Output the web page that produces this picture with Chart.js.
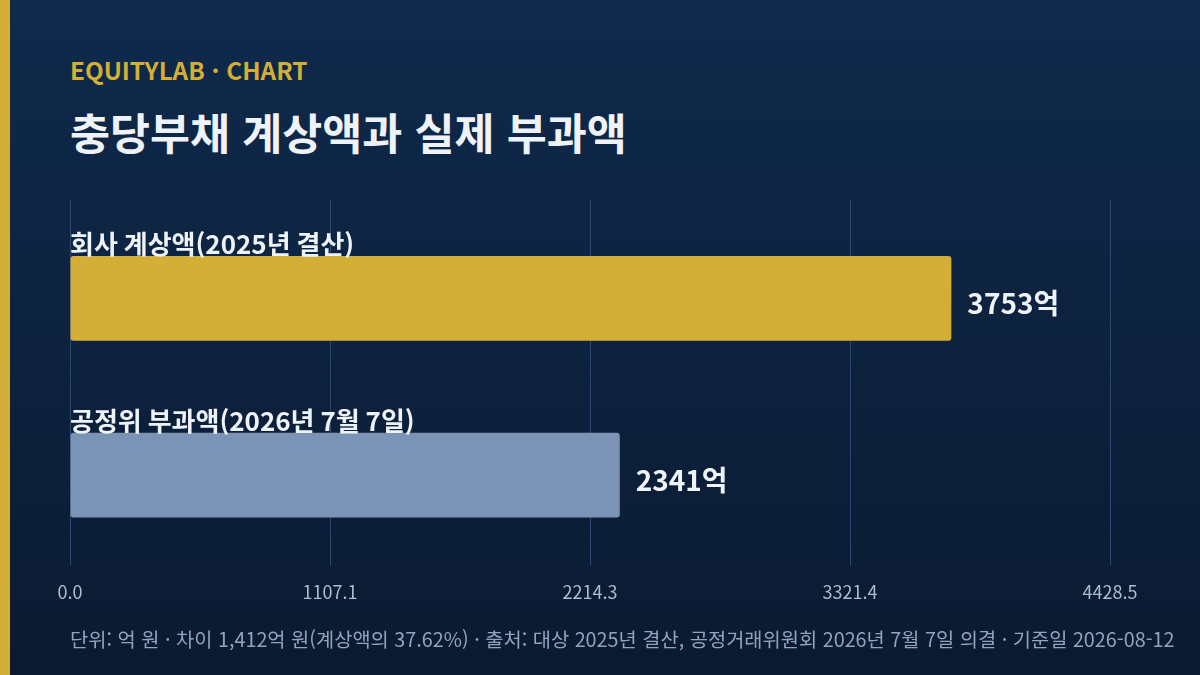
<!DOCTYPE html>
<html lang="ko">
<head>
<meta charset="utf-8">
<script src="https://cdn.jsdelivr.net/npm/chart.js@4"></script>
<style>
  html, body { margin: 0; padding: 0; }
  body {
    width: 1200px; height: 675px; overflow: hidden; position: relative;
    background: linear-gradient(180deg, #0f2a4c 0%, #0b1a31 100%);
    font-family: "Noto Sans CJK KR", "Noto Sans", sans-serif;
  }
  .strip { position: absolute; left: 0; top: 0; width: 10px; height: 675px; background: #d4af37; }
  .kicker { position: absolute; left: 70px; top: 55px; color: #d4af37; font-size: 24.3px; font-weight: 700; line-height: 30px; }
  .title { position: absolute; left: 70px; top: 104px; color: #eef2f9; font-size: 43.5px; font-weight: 700; line-height: 56px; }
  .foot { position: absolute; left: 70px; top: 625px; color: #93a3bd; font-size: 19.8px; line-height: 28px; white-space: nowrap; }
  #wrap { position: absolute; left: 0; top: 0; width: 1200px; height: 675px; }
</style>
</head>
<body>
<div class="strip"></div>
<div class="kicker">EQUITYLAB · CHART</div>
<div class="title">충당부채 계상액과 실제 부과액</div>
<div id="wrap"><canvas id="myChart"></canvas></div>
<div class="foot">단위: 억 원 · 차이 1,412억 원(계상액의 37.62%) · 출처: 대상 2025년 결산, 공정거래위원회 2026년 7월 7일 의결 · 기준일 2026-08-12</div>
<script>
const categories = ["회사 계상액(2025년 결산)", "공정위 부과액(2026년 7월 7일)"];
const values = [3753, 2341];
const barColors = ["#d4af37", "#7b93b5"];
const tickValues = [0, 1107.125, 2214.25, 3321.375, 4428.5];
const tickLabels = ["0.0", "1107.1", "2214.3", "3321.4", "4428.5"];

const FONT = '"Noto Sans CJK KR", "Noto Sans", sans-serif';

// category names above each bar, values to the right
const barLabels = {
    id: "barLabels",
    afterDatasetsDraw(chart) {
        const ctx = chart.ctx;
        const meta = chart.getDatasetMeta(0);
        ctx.save();
        meta.data.forEach(function (bar, i) {
            const half = bar.height / 2;
            ctx.fillStyle = "#eef2f9";
            ctx.font = "700 26px " + FONT;
            ctx.textAlign = "left";
            ctx.textBaseline = "alphabetic";
            ctx.fillText(categories[i], chart.chartArea.left, bar.y - half - 2);
            ctx.font = "700 28px " + FONT;
            ctx.textBaseline = "middle";
            ctx.fillText(values[i] + "억", bar.x + 16, bar.y + 5);
        });
        ctx.restore();
    },
};

// grid lines run a little above the plot area
const gridTop = {
    id: "gridTop",
    beforeDatasetsDraw(chart) {
        const ctx = chart.ctx;
        const x = chart.scales.x;
        const top = chart.chartArea.top;
        ctx.save();
        ctx.strokeStyle = "#2d4870";
        ctx.lineWidth = 1;
        tickValues.forEach(function (v) {
            const px = Math.round(x.getPixelForValue(v)) + 0.5;
            ctx.beginPath();
            ctx.moveTo(px, top - 10);
            ctx.lineTo(px, top);
            ctx.stroke();
        });
        ctx.restore();
    },
};

const config = {
    type: "bar",
    data: {
        labels: categories,
        datasets: [
            {
                data: values,
                backgroundColor: barColors,
                borderRadius: 3,
                borderSkipped: false,
                categoryPercentage: 1,
                barPercentage: 0.48,
            },
        ],
    },
    options: {
        indexAxis: "y",
        responsive: true,
        maintainAspectRatio: false,
        animation: false,
        devicePixelRatio: 1,
        layout: { padding: { left: 70, right: 90, top: 210, bottom: 56 } },
        plugins: {
            legend: { display: false },
            tooltip: { enabled: false },
        },
        scales: {
            x: {
                min: 0,
                max: tickValues[tickValues.length - 1],
                afterBuildTicks: function (axis) {
                    axis.ticks = tickValues.map(function (v) { return { value: v }; });
                },
                ticks: {
                    color: "#aebbd0",
                    font: { family: FONT, size: 18 },
                    padding: 16,
                    maxRotation: 0,
                    callback: function (v, i) { return tickLabels[i]; },
                },
                grid: { color: "#2d4870", tickLength: 2, drawTicks: true },
                border: { display: false },
            },
            y: {
                display: false,
                grid: { display: false },
            },
        },
    },
    plugins: [barLabels, gridTop],
};

new Chart(document.getElementById("myChart"), config);
</script>
</body>
</html>
